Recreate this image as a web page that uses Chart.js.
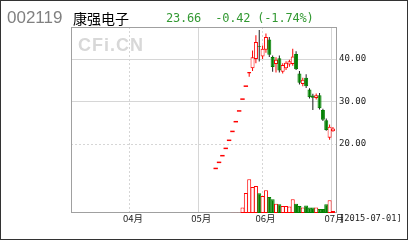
<!DOCTYPE html>
<html>
<head>
<meta charset="utf-8">
<script src="https://cdn.jsdelivr.net/npm/chart.js@4.4.1/dist/chart.umd.min.js"></script>
<style>
html, body { margin: 0; padding: 0; background: #fff; }
#wrap { position: relative; width: 408px; height: 240px; overflow: hidden; }
#kline { position: absolute; left: 0; top: 0; }
.txt { position: absolute; white-space: pre; line-height: 1; }
#outer { position: absolute; left: 0; top: 0; width: 408px; height: 240px; box-sizing: border-box; border: 1px solid #333; pointer-events: none; }
</style>
</head>
<body>
<div id="wrap">
  <canvas id="kline" width="408" height="240"></canvas>
  <div class="txt" style="left:7px;top:8px;font:17px 'Liberation Sans',Arial,sans-serif;color:#808080;">002119</div>
  <div class="txt" style="left:73px;top:8px;font:14px 'Noto Sans CJK SC',sans-serif;color:#000;">康强电子</div>
  <div class="txt" style="left:166px;top:11px;font:12px 'DejaVu Sans Mono',monospace;letter-spacing:-0.2px;color:#339933;">23.66  -0.42 (-1.74%)</div>
  <div class="txt" style="left:78px;top:35px;font:bold 18px 'Liberation Sans',Arial,sans-serif;letter-spacing:1px;color:#d8d8d8;">CFi.CN</div>
  <div class="txt" style="left:339px;top:213px;font:8.7px 'DejaVu Sans Mono',monospace;color:#222;line-height:11px;">[2015-07-01]</div>
  <div id="outer"></div>
</div>
<script>
// trading days, one slot each
const dates = [
    "05-12", "05-13", "05-14", "05-15", "05-18", "05-19", "05-20", "05-21", "05-22", "05-25",
    "05-26", "05-27", "05-28", "05-29", "06-01", "06-02", "06-03", "06-04", "06-05", "06-08",
    "06-09", "06-10", "06-11", "06-12", "06-15", "06-16", "06-17", "06-18", "06-19", "06-23",
    "06-24", "06-25", "06-26", "06-29", "06-30", "07-01"
];
const open = [
    14.25, 15.68, 17.25, 18.97, 20.87, 22.96, 25.25, 27.78, 30.56, 33.61,
    36.6, 37.8, 40.0, 43.0, 40.6, 42.2, 44.6, 40.5, 38.8, 40.2,
    37.0, 37.8, 38.7, 38.8, 41.2, 36.6, 34.1, 35.6, 32.8, 31.4,
    30.8, 31.5, 28.0, 25.6, 21.5, 23.0
];
const high = [
    14.25, 15.68, 17.25, 18.97, 20.87, 22.96, 25.25, 27.78, 30.56, 33.61,
    36.97, 42.0, 45.6, 46.8, 43.2, 46.0, 45.2, 40.8, 40.4, 40.8,
    39.0, 39.5, 39.8, 42.4, 41.8, 37.2, 35.6, 36.4, 33.1, 31.8,
    31.9, 32.0, 28.3, 26.0, 24.6, 24.0
];
const low = [
    14.25, 15.68, 17.25, 18.97, 20.87, 22.96, 25.25, 27.78, 30.56, 33.61,
    35.8, 37.2, 39.0, 39.4, 40.0, 41.5, 40.5, 37.0, 36.8, 36.8,
    36.6, 37.4, 38.2, 38.4, 37.4, 34.0, 33.6, 33.2, 30.7, 28.0,
    30.5, 28.1, 25.4, 23.1, 21.0, 22.9
];
const close = [
    14.25, 15.68, 17.25, 18.97, 20.87, 22.96, 25.25, 27.78, 30.56, 33.61,
    36.97, 40.4, 44.0, 42.8, 42.4, 45.2, 41.0, 38.1, 39.8, 37.3,
    38.6, 39.1, 39.5, 40.6, 37.6, 34.4, 35.1, 33.6, 31.0, 30.9,
    31.5, 28.4, 25.7, 23.3, 24.08, 23.66
];
// volume, 万手 (rough)
const volume = [
    0.02, 0.02, 0.03, 0.03, 0.04, 0.05, 0.08, 0.12, 1.74, 6.45,
    10.9, 8.4, 8.7, 6.35, 5.5, 7.3, 5.2, 4.4, 3.0, 2.8,
    2.25, 2.25, 2.1, 4.4, 3.0, 2.25, 1.75, 2.4, 1.75, 1.75,
    1.75, 1.3, 1.3, 2.8, 4.1, 0.65
];
const monthTickPos = [-25.6, -5.2, 14.0, 34.6];
const monthTickLabels = ["04月", "05月", "06月", "07月"];
const priceTicks = [20, 30, 40];

const RED = "#ff0000";
const GREEN = "#008000";
const GRID = "#d6d6d6";
const X_MIN = -43.19, X_MAX = 36.21;
const P_MIN = 3.765, P_MAX = 47.53;

const up = close.map((c, i) => c >= open[i]);
const isDash = open.map((o, i) => o === high[i] && o === low[i] && o === close[i]);
const candleIdx = dates.map((d, i) => i).filter(i => !isDash[i]);
const dashIdx = dates.map((d, i) => i).filter(i => isDash[i]);

// frame round the plot area
const framePlugin = {
    id: "frame",
    beforeDatasetsDraw(chart) {
        const a = chart.chartArea, ctx = chart.ctx;
        ctx.save();
        ctx.strokeStyle = "#a0a0a0";
        ctx.lineWidth = 1;
        ctx.strokeRect(a.left + 0.5, a.top + 0.5, a.right - a.left - 1, a.bottom - a.top - 1);
        ctx.restore();
    }
};

new Chart(document.getElementById("kline"), {
    type: "bar",
    data: {
        datasets: [
            {
                // limit-up days: one price only
                type: "line",
                data: dashIdx.map(i => ({ x: i, y: close[i] })),
                showLine: false,
                pointStyle: "line",
                pointRadius: 2.2,
                pointBorderWidth: 1.5,
                pointBorderColor: RED,
                order: 0
            },
            {
                data: candleIdx.map(i => ({ x: i, y: [open[i], close[i]] })),
                backgroundColor: candleIdx.map(i => up[i] ? "#ffffff" : GREEN),
                borderColor: candleIdx.map(i => up[i] ? RED : GREEN),
                borderWidth: 1,
                barThickness: 4,
                order: 1
            },
            {
                data: candleIdx.map(i => ({ x: i, y: [low[i], high[i]] })),
                backgroundColor: candleIdx.map(i => up[i] ? RED : "#1e1e1e"),
                borderWidth: 0,
                barThickness: 1,
                order: 2
            },
            {
                data: dates.map((d, i) => ({ x: i, y: volume[i] })),
                yAxisID: "yVol",
                backgroundColor: dates.map((d, i) => up[i] ? "#ffffff" : GREEN),
                borderColor: dates.map((d, i) => up[i] ? RED : GREEN),
                borderWidth: 1,
                barThickness: 4,
                order: 1
            }
        ]
    },
    options: {
        responsive: false,
        animation: false,
        devicePixelRatio: 1,
        layout: { padding: { left: 71, top: 27, right: 0, bottom: 0 } },
        datasets: { bar: { grouped: false, borderSkipped: false, inflateAmount: 0 } },
        plugins: { legend: { display: false }, tooltip: { enabled: false } },
        scales: {
            x: {
                type: "linear",
                position: "bottom",
                min: X_MIN, max: X_MAX,
                offset: false,
                afterBuildTicks: axis => { axis.ticks = monthTickPos.map(v => ({ value: v })); },
                afterFit: axis => { axis.height = 27; },
                ticks: {
                    callback: (v, i) => monthTickLabels[i],
                    autoSkip: false, maxRotation: 0,
                    labelOffset: 3, padding: 0,
                    color: "#222",
                    font: { family: "'Noto Sans CJK SC', sans-serif", size: 9.5 }
                },
                grid: {
                    offset: false, drawTicks: false,
                    color: ctx => ctx.index % 2 === 1 ? GRID : "rgba(0,0,0,0)"
                },
                border: { display: false }
            },
            xDash: {
                type: "linear",
                position: "bottom",
                min: X_MIN, max: X_MAX,
                offset: false,
                afterBuildTicks: axis => { axis.ticks = monthTickPos.map(v => ({ value: v })); },
                afterFit: axis => { axis.height = 0; },
                ticks: { display: false },
                grid: {
                    offset: false, drawTicks: false,
                    color: ctx => ctx.index % 2 === 0 ? GRID : "rgba(0,0,0,0)"
                },
                border: { display: false, dash: [2, 2] }
            },
            y: {
                type: "linear",
                position: "right",
                min: P_MIN, max: P_MAX,
                afterBuildTicks: axis => { axis.ticks = priceTicks.map(v => ({ value: v })); },
                afterFit: axis => { axis.width = 71; },
                ticks: {
                    callback: v => v.toFixed(2),
                    padding: 2,
                    color: "#222",
                    font: { family: "'DejaVu Sans Mono', monospace", size: 9 }
                },
                grid: {
                    drawTicks: false,
                    color: ctx => ctx.index === 0 ? "rgba(0,0,0,0)" : GRID
                },
                border: { display: false }
            },
            yDash: {
                type: "linear",
                position: "right",
                min: P_MIN, max: P_MAX,
                afterBuildTicks: axis => { axis.ticks = priceTicks.slice(0, 1).map(v => ({ value: v })); },
                afterFit: axis => { axis.width = 0; },
                ticks: { display: false },
                grid: { drawTicks: false, color: GRID },
                border: { display: false, dash: [2, 2] }
            },
            yVol: {
                type: "linear",
                display: false,
                min: 0, max: 60
            }
        }
    },
    plugins: [framePlugin]
});
</script>
</body>
</html>
